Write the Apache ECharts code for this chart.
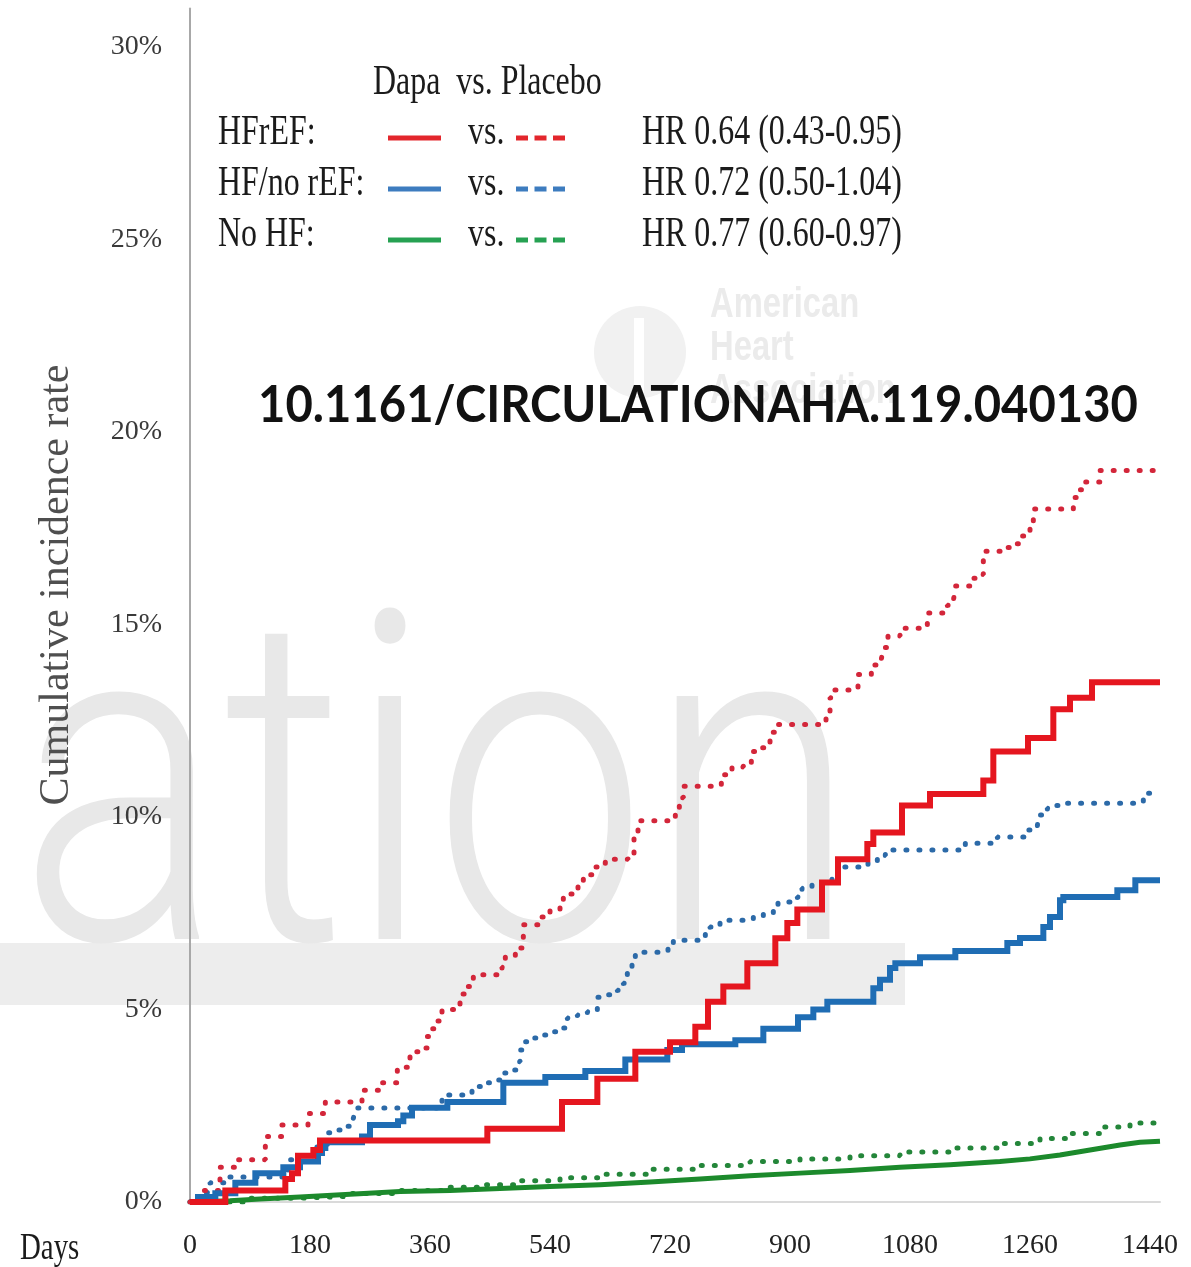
<!DOCTYPE html>
<html>
<head>
<meta charset="utf-8">
<title>Cumulative incidence by heart failure status</title>
<script src="https://cdn.jsdelivr.net/npm/echarts@6/dist/echarts.min.js"></script>
<style>
  html, body { margin: 0; padding: 0; background: #ffffff; }
  #chart { width: 1191px; height: 1267px; }
</style>
</head>
<body>
<div id="chart"></div>
<script>
// ---- axis ticks ----
const xTickLabels = [0, 180, 360, 540, 720, 900, 1080, 1260, 1440];
const yTickLabels = [0, 5, 10, 15, 20, 25, 30];
const yTitle = 'Cumulative incidence rate';

// ---- HFrEF ----
const hfrefDapaDays = [0, 53, 143, 153, 162, 185, 195, 446, 558, 611, 668, 720, 758, 777, 800, 836, 878, 896, 911, 948, 972, 1016, 1025, 1068, 1110, 1190, 1205, 1257, 1295, 1320, 1353, 1455];
const hfrefDapaPct  = [0, 0.3, 0.6, 0.75, 1.2, 1.35, 1.6, 1.9, 2.6, 3.2, 3.9, 4.15, 4.55, 5.2, 5.6, 6.2, 6.85, 7.25, 7.6, 8.3, 8.9, 9.3, 9.6, 10.3, 10.6, 10.95, 11.7, 12.05, 12.8, 13.1, 13.5, 13.5];

const hfrefPlacDays = [0, 18, 45, 68, 113, 138, 177, 203, 258, 285, 311, 330, 345, 356, 363, 372, 378, 405, 416, 425, 468, 473, 488, 500, 525, 540, 555, 560, 582, 590, 605, 623, 657, 666, 672, 717, 728, 734, 740, 797, 813, 830, 842, 858, 870, 878, 948, 954, 960, 965, 1002, 1022, 1037, 1040, 1047, 1065, 1106, 1136, 1145, 1148, 1175, 1185, 1190, 1226, 1238, 1248, 1260, 1265, 1325, 1332, 1343, 1365, 1455];
const hfrefPlacPct  = [0, 0.3, 0.9, 1.1, 1.7, 2.0, 2.3, 2.6, 2.9, 3.1, 3.5, 3.9, 4.0, 4.3, 4.5, 4.7, 5.0, 5.4, 5.6, 5.9, 6.1, 6.4, 6.6, 7.2, 7.4, 7.6, 7.8, 8.0, 8.3, 8.5, 8.7, 8.9, 9.06, 9.6, 9.9, 10.0, 10.2, 10.5, 10.8, 11.1, 11.3, 11.4, 11.7, 11.8, 12.2, 12.4, 12.5, 12.6, 13.1, 13.3, 13.7, 13.95, 14.1, 14.4, 14.7, 14.9, 15.3, 15.5, 15.6, 16.0, 16.2, 16.3, 16.9, 17.0, 17.1, 17.3, 17.5, 18.0, 18.3, 18.5, 18.7, 19.0, 19.0];

// ---- HF without reduced EF ----
const hfnoDapaDays = [0, 12, 38, 68, 98, 140, 165, 192, 198, 203, 258, 270, 312, 320, 333, 386, 470, 533, 593, 653, 716, 738, 818, 860, 912, 935, 956, 1025, 1035, 1050, 1058, 1095, 1148, 1226, 1245, 1280, 1290, 1305, 1310, 1391, 1418, 1455];
const hfnoDapaPct  = [0, 0.13, 0.23, 0.5, 0.75, 0.9, 1.05, 1.27, 1.4, 1.55, 1.7, 2.0, 2.1, 2.25, 2.45, 2.6, 3.1, 3.25, 3.4, 3.7, 3.95, 4.1, 4.2, 4.5, 4.8, 5.0, 5.2, 5.55, 5.77, 6.08, 6.2, 6.36, 6.52, 6.73, 6.86, 7.14, 7.4, 7.84, 7.92, 8.1, 8.36, 8.36];

const hfnoPlacDays = [0, 15, 30, 57, 147, 158, 185, 206, 221, 236, 245, 248, 378, 423, 438, 458, 470, 480, 491, 495, 500, 515, 530, 545, 558, 566, 581, 596, 611, 627, 641, 650, 656, 663, 668, 717, 725, 773, 780, 795, 845, 860, 875, 882, 911, 918, 933, 950, 963, 972, 1017, 1031, 1043, 1163, 1211, 1257, 1271, 1272, 1286, 1295, 1313, 1430, 1455];
const hfnoPlacPct  = [0, 0.25, 0.5, 0.65, 1.1, 1.2, 1.43, 1.8, 1.87, 1.97, 2.17, 2.44, 2.78, 3.0, 3.1, 3.17, 3.35, 3.43, 3.64, 3.95, 4.16, 4.26, 4.34, 4.42, 4.52, 4.78, 4.86, 4.94, 5.32, 5.38, 5.5, 5.68, 5.95, 6.2, 6.49, 6.62, 6.8, 6.98, 7.14, 7.32, 7.4, 7.5, 7.58, 7.79, 7.92, 8.15, 8.28, 8.36, 8.55, 8.7, 8.83, 9.0, 9.14, 9.32, 9.48, 9.66, 9.74, 10.05, 10.23, 10.3, 10.36, 10.62, 10.62];

// ---- No HF ----
const nohfDapaDays = [0, 60, 105, 165, 240, 315, 390, 465, 540, 615, 690, 765, 840, 915, 990, 1065, 1140, 1215, 1260, 1305, 1350, 1395, 1425, 1455];
const nohfDapaPct  = [0, 0.03, 0.08, 0.13, 0.2, 0.27, 0.3, 0.35, 0.4, 0.45, 0.52, 0.6, 0.68, 0.75, 0.82, 0.9, 0.97, 1.05, 1.12, 1.22, 1.35, 1.48, 1.55, 1.58];

const nohfPlacDays = [0, 90, 165, 240, 315, 390, 435, 495, 555, 615, 690, 765, 840, 915, 990, 1065, 1140, 1215, 1275, 1320, 1365, 1410, 1455];
const nohfPlacPct  = [0, 0.1, 0.15, 0.22, 0.3, 0.38, 0.45, 0.55, 0.63, 0.72, 0.85, 0.95, 1.05, 1.12, 1.2, 1.3, 1.4, 1.52, 1.65, 1.78, 1.95, 2.05, 2.12];

// ---- legend text ----
const groupNames = ['HFrEF:', 'HF/no rEF:', 'No HF:'];
const hrTexts = ['HR 0.64 (0.43-0.95)', 'HR 0.72 (0.50-1.04)', 'HR 0.77 (0.60-0.97)'];
const legendHeader = 'Dapa  vs. Placebo';
const doiText = '10.1161/CIRCULATIONAHA.119.040130';

const RED = '#e5161f', BLUE = '#1f6db4', GREEN = '#1c8a2c';
const RED_DOT = '#d3263a', BLUE_DOT = '#2c6aa8', GREEN_DOT = '#24863a';
const LEG_RED = '#e3262c', LEG_BLUE = '#3d7cbf', LEG_GREEN = '#26a152';

const zip = (d, v) => d.map((x, i) => [x, v[i]]);

// width of a string in a given canvas font, used to fit stretched text
const measure = (() => {
  const ctx = document.createElement('canvas').getContext('2d');
  return (txt, font) => { ctx.font = font; return ctx.measureText(txt).width; };
})();

const SERIF = 'Liberation Serif';
const LEG_SIZE = 42, LEG_SX = 0.76;

function legText(txt, x, y) {
  return {
    type: 'text', x: x, y: y, scaleX: LEG_SX, z: 50,
    style: { text: txt, x: 0, y: 0, fill: '#1b1b1b', fontFamily: SERIF, fontSize: LEG_SIZE,
             textAlign: 'left', textVerticalAlign: 'middle' }
  };
}
function legLine(x1, x2, y, color, dashed) {
  return {
    type: 'line', z: 50,
    shape: { x1: x1, y1: y, x2: x2, y2: y },
    style: { stroke: color, lineWidth: 5, lineDash: dashed ? [12, 6.5] : null }
  };
}

const rowY = [133, 184, 235];
const legendColors = [[LEG_RED, LEG_RED], [LEG_BLUE, LEG_BLUE], [LEG_GREEN, LEG_GREEN]];

const graphics = [];

// faint publisher watermark behind the plot
const wmFont = '300 460px Roboto';
const wmScale = 840 / measure('ation', wmFont);
graphics.push({
  type: 'rect', z: -10, silent: true,
  shape: { x: 0, y: 943, width: 905, height: 62 },
  style: { fill: '#ededed' }
});
graphics.push({
  type: 'text', x: 18, y: 824, scaleX: wmScale, z: -10, silent: true,
  style: { text: 'ation', x: 0, y: 0, fill: '#e8e8e8', fontFamily: 'Roboto', fontWeight: 300,
           fontSize: 460, textAlign: 'left', textVerticalAlign: 'middle' }
});
// faint society emblem
graphics.push({
  type: 'circle', z: -10, silent: true,
  shape: { cx: 640, cy: 352, r: 46 },
  style: { fill: '#f1f1f1' }
});
graphics.push({
  type: 'rect', z: -9, silent: true,
  shape: { x: 634, y: 318, width: 10, height: 78 },
  style: { fill: '#ffffff' }
});
['American', 'Heart', 'Association'].forEach((w, i) => {
  graphics.push({
    type: 'text', x: 710, y: 305 + i * 43, scaleX: 0.78, z: -10, silent: true,
    style: { text: w, x: 0, y: 0, fill: '#ebebeb', fontFamily: 'Liberation Sans', fontWeight: 'bold',
             fontSize: 42, textAlign: 'left', textVerticalAlign: 'middle' }
  });
});

// legend block
graphics.push(legText(legendHeader, 373, 83));
groupNames.forEach((g, i) => {
  const y = rowY[i];
  graphics.push(legText(g, 218, y));
  graphics.push(legLine(388, 441, y + 5, legendColors[i][0], false));
  graphics.push(legText('vs.', 468, y));
  graphics.push(legLine(516, 569, y + 5, legendColors[i][1], true));
  graphics.push(legText(hrTexts[i], 642, y));
});

// y-axis title, reading bottom to top
graphics.push({
  type: 'text', x: 57, y: 585, rotation: Math.PI / 2, z: 50,
  style: { text: yTitle, x: 0, y: 0, fill: '#4f4f4f', fontFamily: SERIF, fontSize: 42,
           textAlign: 'center', textVerticalAlign: 'middle' }
});

// x-axis caption
graphics.push({
  type: 'text', x: 20, y: 1249, scaleX: LEG_SX, z: 50,
  style: { text: 'Days', x: 0, y: 0, fill: '#1b1b1b', fontFamily: SERIF, fontSize: 38,
           textAlign: 'left', textVerticalAlign: 'middle' }
});

// DOI banner
const doiFont = 'bold 51px Lato';
graphics.push({
  type: 'text', x: 258, y: 406, scaleX: 880 / measure(doiText, doiFont), z: 100,
  style: { text: doiText, x: 0, y: 0, fill: '#111111', fontFamily: 'Lato', fontWeight: 'bold',
           fontSize: 51, textAlign: 'left', textVerticalAlign: 'middle' }
});

function km(name, days, pct, color, width, dotted, z) {
  return {
    name: name, type: 'line', step: dotted === 'smooth' ? false : 'end',
    data: zip(days, pct), showSymbol: false, symbol: 'none', z: z,
    lineStyle: dotted === true
      ? { color: color, width: 5, type: [1, 12], cap: 'round' }
      : { color: color, width: width, cap: 'butt', join: 'miter' }
  };
}

const chart = echarts.init(document.getElementById('chart'), null, { renderer: 'canvas' });
chart.setOption({
  backgroundColor: '#ffffff',
  animation: false,
  grid: { left: 190, right: 31, top: 8.5, bottom: 65, containLabel: false },
  xAxis: {
    type: 'value', min: 0, max: 1455, interval: 180,
    axisLine: { show: true, onZero: false, lineStyle: { color: '#dadada', width: 2 } },
    axisTick: { show: false },
    splitLine: { show: false },
    axisLabel: {
      margin: 30, fontFamily: SERIF, fontSize: 28, color: '#222222',
      formatter: v => xTickLabels.includes(v) ? String(v) : ''
    }
  },
  yAxis: {
    type: 'value', min: 0, max: 31, interval: 5,
    axisLine: { show: true, lineStyle: { color: '#a8a8a8', width: 2 } },
    axisTick: { show: false },
    splitLine: { show: false },
    axisLabel: {
      margin: 28, fontFamily: SERIF, fontSize: 28, color: '#3a3a3a',
      formatter: v => yTickLabels.includes(v) ? v + '%' : ''
    }
  },
  graphic: graphics,
  series: [
    km('No HF placebo', nohfPlacDays, nohfPlacPct, GREEN_DOT, 5, true, 2),
    km('No HF dapagliflozin', nohfDapaDays, nohfDapaPct, GREEN, 5, 'smooth', 3),
    km('HF/no rEF placebo', hfnoPlacDays, hfnoPlacPct, BLUE_DOT, 5, true, 4),
    km('HFrEF placebo', hfrefPlacDays, hfrefPlacPct, RED_DOT, 5, true, 5),
    km('HF/no rEF dapagliflozin', hfnoDapaDays, hfnoDapaPct, BLUE, 6, false, 6),
    km('HFrEF dapagliflozin', hfrefDapaDays, hfrefDapaPct, RED, 6, false, 7)
  ]
});
</script>
</body>
</html>
